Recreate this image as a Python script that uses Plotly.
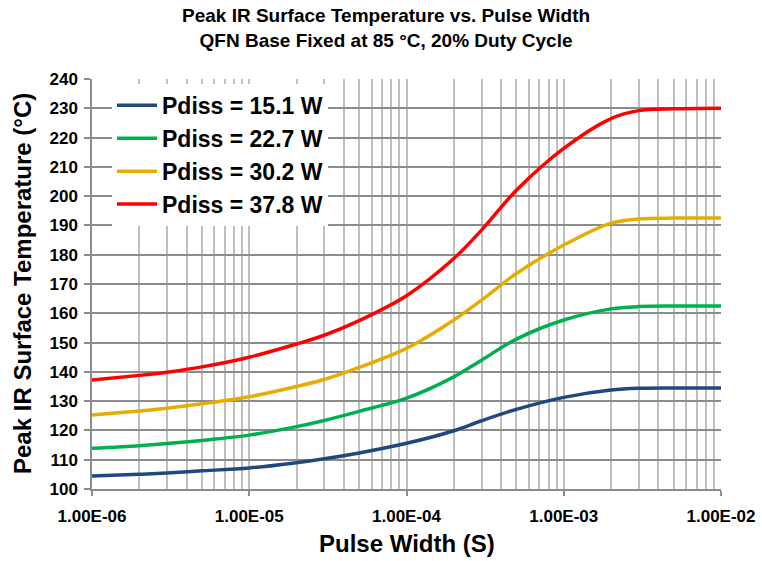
import plotly.graph_objects as go

pulse_width = [1e-6, 2e-6, 3e-6, 5e-6, 1e-5, 2e-5, 3e-5, 5e-5, 1e-4, 2e-4, 3e-4, 5e-4,
               1e-3, 2e-3, 3e-3, 5e-3, 1e-2]
temp_15_1 = [104.4, 105.0, 105.5, 106.2, 107.2, 109.0, 110.3, 112.3, 115.6, 119.9, 123.3, 127.2,
             131.3, 133.8, 134.4, 134.5, 134.5]
temp_22_7 = [113.9, 114.8, 115.5, 116.6, 118.4, 121.3, 123.4, 126.5, 131.0, 138.3, 144.0, 151.2,
             157.7, 161.5, 162.3, 162.5, 162.5]
temp_30_2 = [125.3, 126.6, 127.6, 129.1, 131.5, 135.0, 137.4, 141.5, 148.0, 157.7, 164.5, 173.6,
             183.3, 190.8, 192.2, 192.5, 192.5]
temp_37_8 = [137.2, 138.8, 139.9, 141.7, 145.0, 149.5, 152.5, 157.5, 166.0, 178.7, 188.4, 202.0,
             216.3, 226.5, 229.2, 229.8, 230.0]

series_names = ["Pdiss = 15.1 W", "Pdiss = 22.7 W", "Pdiss = 30.2 W", "Pdiss = 37.8 W"]
series_colors = ["#1F497D", "#00B050", "#E6AC00", "#FF0000"]
series_values = [temp_15_1, temp_22_7, temp_30_2, temp_37_8]

major_ticks = [1e-6, 1e-5, 1e-4, 1e-3, 1e-2]
major_labels = ["1.00E-06", "1.00E-05", "1.00E-04", "1.00E-03", "1.00E-02"]
minor_ticks = [m * d for d in [1e-6, 1e-5, 1e-4, 1e-3] for m in range(2, 10)]
y_ticks = list(range(100, 241, 10))

FONT = "Liberation Sans, Arial, sans-serif"

fig = go.Figure()
for name, color, vals in zip(series_names, series_colors, series_values):
    fig.add_trace(go.Scatter(x=pulse_width, y=vals, name=name, mode="lines",
                             line=dict(color=color, width=3.5, shape="spline", smoothing=0.9)))

fig.update_layout(
    width=762, height=561,
    margin=dict(l=92, r=41, t=79, b=72, autoexpand=False),
    paper_bgcolor="white", plot_bgcolor="white",
    font=dict(family=FONT, color="black"),
    showlegend=True,
    legend=dict(x=(112 - 92) / 629, y=0.988, xanchor="left", yanchor="top",
                bgcolor="white", borderwidth=0,
                font=dict(family=FONT, size=23, color="black", weight="bold"),
                tracegroupgap=0, itemwidth=40),
    xaxis=dict(type="log", range=[-6, -2], tickvals=major_ticks, ticktext=major_labels,
               automargin=False, ticklabelstandoff=6,
               showgrid=True, gridcolor="#BFBFBF", gridwidth=1.5,
               ticks="outside", ticklen=5, tickcolor="#8C8C8C", tickwidth=1.5,
               showline=True, linecolor="#8C8C8C", linewidth=1.5,
               tickfont=dict(family=FONT, size=17, color="black", weight="bold"),
               minor=dict(tickvals=minor_ticks, showgrid=True, gridcolor="#BFBFBF",
                          gridwidth=1.5, ticks=""),
               zeroline=False),
    yaxis=dict(range=[100, 240], tickvals=y_ticks, automargin=False, ticklabelstandoff=3,
               showgrid=True, gridcolor="#8C8C8C", gridwidth=1.5,
               ticks="outside", ticklen=6, tickcolor="#8C8C8C", tickwidth=1.5,
               showline=True, linecolor="#8C8C8C", linewidth=1.5,
               tickfont=dict(family=FONT, size=17, color="black", weight="bold"),
               zeroline=False),
    annotations=[
        dict(text="Peak IR Surface Temperature vs. Pulse Width<br>QFN Base Fixed at 85 °C, 20% Duty Cycle",
             xref="paper", yref="paper", x=(386 - 92) / 629, y=1.0, yshift=76,
             xanchor="center", yanchor="top",
             showarrow=False, font=dict(family=FONT, size=19, color="black", weight="bold")),
        dict(text="Pulse Width (S)", xref="paper", yref="paper", x=0.5, y=0, yshift=-39,
             xanchor="center", yanchor="top", showarrow=False,
             font=dict(family=FONT, size=24, color="black", weight="bold")),
        dict(text="Peak IR Surface Temperature (°C)", xref="paper", yref="paper", x=0, xshift=-70,
             y=0.5, xanchor="center", yanchor="middle", textangle=-90, showarrow=False,
             font=dict(family=FONT, size=24, color="black", weight="bold")),
    ],
)

fig.write_html("out.html", config={"displayModeBar": False},
               post_script="document.body.style.margin='0';")
